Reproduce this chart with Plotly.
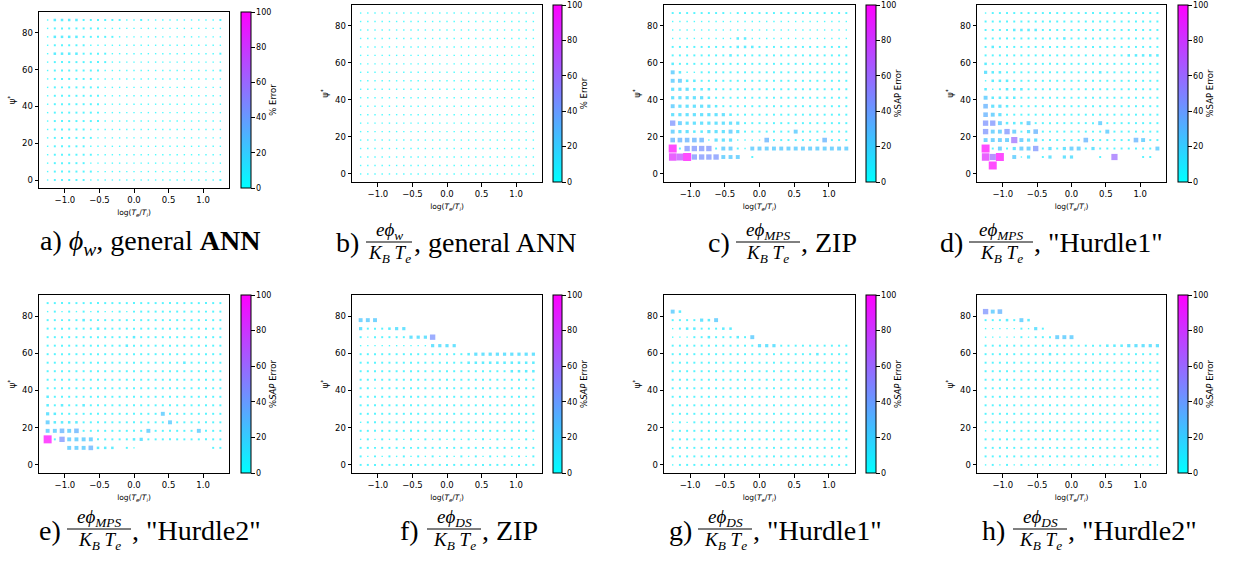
import plotly.graph_objects as go

W, H = 1236, 561

# grid of log(Te/Ti) values (columns) and psi* values (rows)
x_grid = [-1.25, -1.146, -1.042, -0.938, -0.833, -0.729, -0.625, -0.521, -0.417,
          -0.313, -0.208, -0.104, 0.0, 0.104, 0.208, 0.313, 0.417, 0.521, 0.625,
          0.729, 0.833, 0.938, 1.042, 1.146, 1.25]
y_grid = [0.0, 4.58, 9.16, 13.74, 18.32, 22.89, 27.47, 32.05, 36.63, 41.21, 45.79,
          50.37, 54.95, 59.53, 64.11, 68.68, 73.26, 77.84, 82.42, 87.0]

# error level codes -> % error
LEVEL_ERR = {'0': 0, '1': 1, '2': 3, '3': 6, '4': 10, '5': 16, '6': 24, '7': 33,
             '8': 45, '9': 60, 'A': 75, 'B': 88, 'C': 100}

# each panel: 20 rows, top row (psi*=87) first, 25 columns left to right
panel_a = [
    "2444433333322322222222223",
    "2333333322222222222222222",
    "2444433333222222222222222",
    "2333332222222222222222222",
    "2444433332222222222222223",
    "2333333332222222222222222",
    "2333333322222222222222223",
    "2333333222222222222222222",
    "2333333322222222221222222",
    "2333333322222222211112222",
    "2333333322222222211112222",
    "2333333322222222211112222",
    "2333333322222221111112222",
    "2333332222222221111112222",
    "2333333222222221111112222",
    "2333332222222221111112222",
    "2333333222222221111112222",
    "2333332222222221111112222",
    "2333333222222221111112222",
    "2333332222222221111112223",
]
panel_b = [
    "2222222222222222222222222",
    "2222222222221111111111112",
    "2222222222221111111111112",
    "2222222222221111111111111",
    "2222222222221111111111112",
    "2222222222211111111111111",
    "2222222222221111111111112",
    "2222222222211111111111111",
    "2222222222221111111111112",
    "2222222222211111111111111",
    "2222222222221111111111112",
    "2222222222211111111111111",
    "2222222222221111111111112",
    "2222222222211111111111111",
    "2222222222211111111111112",
    "2222222222111111111111111",
    "2222222222211111111111112",
    "2222222222111111111111111",
    "2222222222211111111111112",
    "2222222222111111111111111",
]
panel_c = [
    "3333333323333333333333333",
    "2222222222222222222222222",
    "2222222222222222222222222",
    "2222222224422222222222222",
    "3333333334443333333333333",
    "3333333343333333333333333",
    "4333333333333333333333333",
    "6422333333333333333333333",
    "6644333333333333333333333",
    "5554443333333333333333333",
    "5555543333333333333333333",
    "6555554333333333333333333",
    "5555555543333333333333333",
    "8655555555333333333333333",
    "6554455565333333363333333",
    "7777725552222733333337333",
    "C388883663266666666666666",
    "BAC8888666030000000000000",
    "0000000000000000000000000",
    "0000000000000000000000000",
]
panel_d = [
    "2333333333333333333333333",
    "3333333333333333333333333",
    "3333444433333333333333333",
    "3333333333343333333333333",
    "3433333333333333333333333",
    "3333333333333333333344444",
    "4333333333333333333333333",
    "5443333333333333433333333",
    "2444333333333333333333333",
    "4234443333333333333333333",
    "6444433333333333333333333",
    "7554333333333333333333333",
    "7653333333333333333333333",
    "8864446333333333633333333",
    "8668635733333333363333333",
    "6666965533333373333337633",
    "C363566835356635333333336",
    "B9C0625035055000309000330",
    "0C00000000000000000000000",
    "0000000000000000000000000",
]
panel_e = [
    "3333333333333333333333333",
    "2323232322323333333333333",
    "3333343333333333333333333",
    "3333333433333333333333333",
    "3333333333334333333333333",
    "3333333333343333333333333",
    "3333333333333333333333333",
    "3333333333333333333433333",
    "3333333333333333333333333",
    "3333333333333333333333333",
    "3333333333333333333333333",
    "4333333333333333333333333",
    "4343343333333333333333333",
    "5433333333333333633333333",
    "6444433333333333363333333",
    "6676733333333363333336333",
    "C386666333334533333333333",
    "0006667444031000000000033",
    "0000000000000000000000000",
    "0000000000000000000000000",
]
panel_f = [
    "0000000000000000000000000",
    "0000000000000000000000000",
    "6660000000000000000000000",
    "5333455000000000000000000",
    "3233333555800000000000000",
    "2222222222555500000000000",
    "3333333333333334555555555",
    "3333333333333334444444444",
    "3333333333333333333334444",
    "3333333333333333333333333",
    "3323333333333333333333333",
    "3333333333333333333333333",
    "3333333333333333333333333",
    "3333333333333333333333333",
    "2333333333333333333333333",
    "3333333333333333333333333",
    "2323232323232323232323232",
    "3333333333333333333333333",
    "3232323232323232323232323",
    "3333333333333333333333333",
]
panel_g = [
    "0000000000000000000000000",
    "6400000000000000000000000",
    "3333546000000000000000000",
    "1344333440000000000000000",
    "1123343334360000000000000",
    "3333333333335553333333333",
    "3333333333333333333343333",
    "3333333333333333333333333",
    "3333333333333333333333333",
    "3333333333333333333333333",
    "3333333333333333333333333",
    "3333333333333333333333333",
    "3333333333333333333333333",
    "3333333333333333333333333",
    "2323333333333333333333333",
    "3333333333333333333333333",
    "3333333333333333333333333",
    "3333333333333333333333333",
    "3333333333333333333333333",
    "2333333333333333333333333",
]
panel_h = [
    "0000000000000000000000000",
    "8670000000000000000000000",
    "3334364000000000000000000",
    "1222232530000000000000000",
    "1222232333666000000000000",
    "3333333333333333344455555",
    "3333333334333333333333333",
    "3333333333333333333333333",
    "3333333333333333333333333",
    "3333333333333333333333333",
    "3333333333333333333333333",
    "3333333333333333333333333",
    "3333333333333333333333333",
    "3333333333333333333333333",
    "3333333333333333333333333",
    "2323333333333333333333333",
    "3333333333333333333333333",
    "3333333333333333333333333",
    "3333333333333333333333333",
    "2323232323232323232323232",
]

x_ticks = [-1.0, -0.5, 0.0, 0.5, 1.0]
y_ticks = [0, 20, 40, 60, 80]
cb_ticks = [0, 20, 40, 60, 80, 100]

panels = [
    dict(rows=panel_a, ax=(39, 229, 12, 188), cb=(241, 251), title="% Error"),
    dict(rows=panel_b, ax=(352, 542, 5, 182), cb=(553, 562), title="% Error"),
    dict(rows=panel_c, ax=(664, 855, 5, 182), cb=(866, 876), title="%SAP Error"),
    dict(rows=panel_d, ax=(977, 1166, 5, 182), cb=(1178, 1188), title="%SAP Error"),
    dict(rows=panel_e, ax=(39, 229, 295, 473), cb=(241, 251), title="%<i>SAP</i> Error"),
    dict(rows=panel_f, ax=(352, 542, 295, 473), cb=(553, 562), title="%<i>SAP</i> Error"),
    dict(rows=panel_g, ax=(664, 855, 295, 473), cb=(866, 876), title="%<i>SAP</i> Error"),
    dict(rows=panel_h, ax=(977, 1166, 295, 473), cb=(1178, 1188), title="%<i>SAP</i> Error"),
]

TICKFONT = dict(family="DejaVu Sans", size=8.5, color="black")
CBFONT = dict(family="DejaVu Sans", size=8, color="black")
fig = go.Figure()
layout = {}
for i, p in enumerate(panels):
    n = "" if i == 0 else str(i + 1)
    x0, x1, y0, y1 = p["ax"]
    xs, ys, es = [], [], []
    for r, row in enumerate(p["rows"]):
        yi = 19 - r
        row = row.ljust(25, "0")[:25]
        for c, ch in enumerate(row):
            e = LEVEL_ERR[ch]
            if e > 0:
                xs.append(x_grid[c]); ys.append(y_grid[yi]); es.append(e)
    sizes = [max(1.4, 0.8 * e ** 0.5) for e in es]
    c0, c1 = p["cb"]
    fig.add_trace(go.Scatter(
        x=xs, y=ys, mode="markers", xaxis="x" + n, yaxis="y" + n,
        showlegend=False, hoverinfo="skip",
        marker=dict(symbol="square", size=sizes, color=es, cmin=0, cmax=100,
                    colorscale=[[0, "rgb(0,255,255)"], [1, "rgb(255,0,255)"]],
                    line=dict(width=0), showscale=True,
                    colorbar=dict(x=c0 / W, xanchor="left", xpad=0,
                                  y=1 - (y0 + y1) / 2 / H, yanchor="middle", ypad=0,
                                  len=(y1 - y0) / H, lenmode="fraction",
                                  thickness=c1 - c0, thicknessmode="pixels",
                                  outlinewidth=1, outlinecolor="black",
                                  tickvals=cb_ticks, ticks="outside", ticklen=3.5,
                                  tickwidth=1, tickcolor="black", tickfont=CBFONT,
                                  title=dict(text=p["title"], side="right",
                                             font=dict(family="DejaVu Sans", size=8.5,
                                                       color="black")))),
    ))
    common = dict(showline=True, mirror=True, linecolor="black", linewidth=1,
                  ticks="outside", ticklen=3.5, tickwidth=1, tickcolor="black",
                  showgrid=False, zeroline=False, tickfont=TICKFONT)
    layout["xaxis" + n] = dict(domain=[x0 / W, x1 / W], range=[-1.375, 1.375],
                               tickvals=x_ticks, tickformat=".1f", anchor="y" + n,
                               title=dict(text="log(<i>T<sub>e</sub></i>/<i>T<sub>i</sub></i>)",
                                          font=dict(family="DejaVu Sans", size=7.5,
                                                    color="black"), standoff=6),
                               **common)
    layout["yaxis" + n] = dict(domain=[1 - y1 / H, 1 - y0 / H], range=[-4.35, 91.35],
                               tickvals=y_ticks, anchor="x" + n,
                               title=dict(text="ψ<sup>*</sup>",
                                          font=dict(family="DejaVu Sans", size=8.5,
                                                    color="black"), standoff=4),
                               **common)

fig.update_layout(width=W, height=H, margin=dict(l=0, r=0, t=0, b=0),
                  paper_bgcolor="white", plot_bgcolor="white", **layout)

SERIF = "Liberation Serif"
CAP = 28
FR = 19
annotations = []
shapes = []


def px(x):
    return x / W


def py(y):
    return 1 - y / H


def text(x, y, t, size, anchor="left"):
    annotations.append(dict(x=px(x), y=py(y), xref="paper", yref="paper", text=t,
                            showarrow=False, xanchor=anchor, yanchor="middle",
                            font=dict(family=SERIF, size=size, color="black")))


# a) single line caption
text(38, 243, "a) <i>ϕ<sub>w</sub></i>, general <b>ANN</b>", CAP)

captions = [
    # label, label x, numerator, fraction centre, fraction width, rest, rest x, bar y
    ("b)", 334, "<i>eϕ<sub>w</sub></i>", 389, 46, ", general ANN", 412, 242),
    ("c)", 706, "<i>eϕ<sub>MPS</sub></i>", 768, 64, ", ZIP", 799, 242),
    ("d)", 938, "<i>eϕ<sub>MPS</sub></i>", 1001, 64, ', "Hurdle1"', 1032, 242),
    ("e)", 37, "<i>eϕ<sub>MPS</sub></i>", 99, 64, ', "Hurdle2"', 130, 529),
    ("f)", 398, "<i>eϕ<sub>DS</sub></i>", 454, 54, ", ZIP", 480, 529),
    ("g)", 667, "<i>eϕ<sub>DS</sub></i>", 725, 54, ', "Hurdle1"', 751, 529),
    ("h)", 980, "<i>eϕ<sub>DS</sub></i>", 1040, 54, ', "Hurdle2"', 1066, 529),
]
den = "<i>K<sub>B</sub> T<sub>e</sub></i>"
for lab, lx, num, fx, fw, rest, rx, by in captions:
    text(lx, by + 1, lab, CAP)
    text(fx, by - 11, num, FR, "center")
    text(fx, by + 12, den, FR, "center")
    shapes.append(dict(type="line", xref="paper", yref="paper",
                       x0=px(fx - fw / 2), x1=px(fx + fw / 2), y0=py(by), y1=py(by),
                       line=dict(color="black", width=1)))
    text(rx, by + 1, rest, CAP)

fig.update_layout(annotations=annotations, shapes=shapes)
fig.write_html("out.html")
